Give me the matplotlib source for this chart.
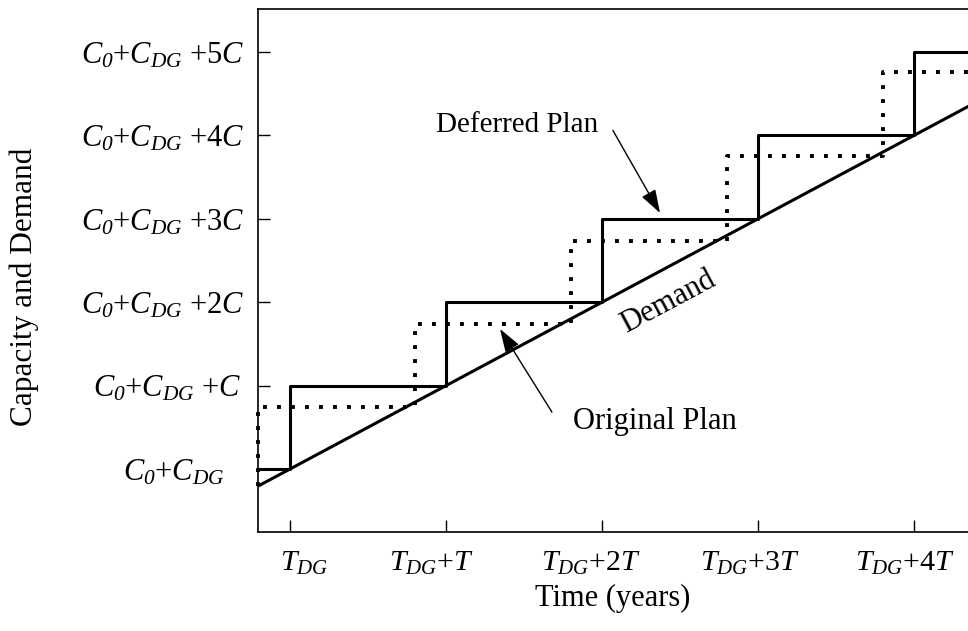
import numpy as np
import matplotlib
matplotlib.use("Agg")
import matplotlib.pyplot as plt
from matplotlib.transforms import ScaledTranslation

# time in units of T after T_DG, capacity in units of C above C0+C_DG
t_start = -0.205
t_end = 4.35
demand_rate = 1.0

deferred_steps = [0, 1, 2, 3, 4]
deferred_levels = [0, 1, 2, 3, 4, 5]

original_steps = [0.8, 1.8, 2.8, 3.8]
original_levels = [0.74, 1.74, 2.74, 3.75, 4.76]

x_ticks = [0, 1, 2, 3, 4]
x_labels = [r"$T_{DG}$", r"$T_{DG}$+$T$", r"$T_{DG}$+2$T$",
            r"$T_{DG}$+3$T$", r"$T_{DG}$+4$T$"]
y_ticks = [0, 1, 2, 3, 4, 5]
c0 = r"$C_\mathsf{0}$+$C_{DG}$"
y_labels = [c0, c0 + r" +$C$", c0 + r" +2$C$", c0 + r" +3$C$",
            c0 + r" +4$C$", c0 + r" +5$C$"]

plt.rcParams['font.family'] = ['Liberation Serif', 'DejaVu Serif']
plt.rcParams['mathtext.fontset'] = 'custom'
plt.rcParams['mathtext.rm'] = 'Liberation Serif'
plt.rcParams['mathtext.it'] = 'Liberation Serif:italic'
plt.rcParams['mathtext.sf'] = 'Liberation Serif:italic'
plt.rcParams['mathtext.bf'] = 'Liberation Serif:bold'

W, H = 968, 631
fig = plt.figure(figsize=(W / 100, H / 100), dpi=100)
ax = fig.add_axes([258 / W, (H - 532) / H, (W - 258) / W, (532 - 9) / H])

# demand
dem_t = np.array([t_start, t_end])
ax.plot(dem_t, demand_rate * dem_t, color='black', lw=2.2, solid_capstyle='butt')

# deferred plan
dx = [t_start] + deferred_steps + [t_end]
dy = deferred_levels + [deferred_levels[-1]]
ax.step(dx, dy, where='post', color='black', lw=2.2)

# original plan
ox = [t_start, t_start] + original_steps + [t_end]
oy = [demand_rate * t_start] + original_levels + [original_levels[-1]]
ax.step(ox, oy, where='post', color='black', lw=2.8,
        linestyle=(0, (1, 2.6)), dash_capstyle='butt', clip_on=False)

ax.set_xlim(t_start, t_start + (W - 258) / 156)
ax.set_ylim(-0.755, 5.516)

ax.set_xticks(x_ticks)
ax.set_xticklabels(x_labels, fontsize=21.5)
ax.set_yticks(y_ticks)
ax.set_yticklabels(y_labels, fontsize=22, ha='center')
ax.tick_params(axis='both', direction='in', length=8.5, width=1.0)
ax.tick_params(axis='x', pad=13)
ax.tick_params(axis='y', pad=67)

# hand-placed label nudges (pixels)
x_nudge = [14, -15, -11, -8, -9]
y_nudge = [-9, -2, 2, 2, 2, 2]
for lab, d in zip(ax.get_xticklabels(), x_nudge):
    lab.set_transform(lab.get_transform() + ScaledTranslation(d / 100, 0, fig.dpi_scale_trans))
for lab, d in zip(ax.get_yticklabels(), y_nudge):
    lab.set_transform(lab.get_transform() + ScaledTranslation(-d / 100, 0, fig.dpi_scale_trans))

ax.spines['right'].set_visible(False)
for s in ['left', 'bottom', 'top']:
    ax.spines[s].set_linewidth(1.2)

ax.set_xlabel("Time (years)", fontsize=22, labelpad=5)
fig.text(24 / W, 1 - 287 / H, "Capacity and Demand", fontsize=22.5,
         rotation=90, ha='center', va='center')

arrow = dict(arrowstyle='-|>,head_length=0.72,head_width=0.24',
             color='black', lw=1.0, mutation_scale=20, shrinkA=0, shrinkB=0)
ax.annotate("", xy=(2.372, 3.07), xytext=(2.07, 4.06), arrowprops=arrow)
ax.text(1.974, 4.125, "Deferred Plan", fontsize=21, ha='right', va='center')
ax.annotate("", xy=(1.346, 1.68), xytext=(1.679, 0.683), arrowprops=arrow)
ax.text(2.34, 0.57, "Original Plan", fontsize=22, ha='center', va='center')
ax.text(2.423, 2.0, "Demand", fontsize=22, ha='center', va='center',
        rotation=28.1, rotation_mode='anchor')

fig.savefig("out.png", dpi=100)
